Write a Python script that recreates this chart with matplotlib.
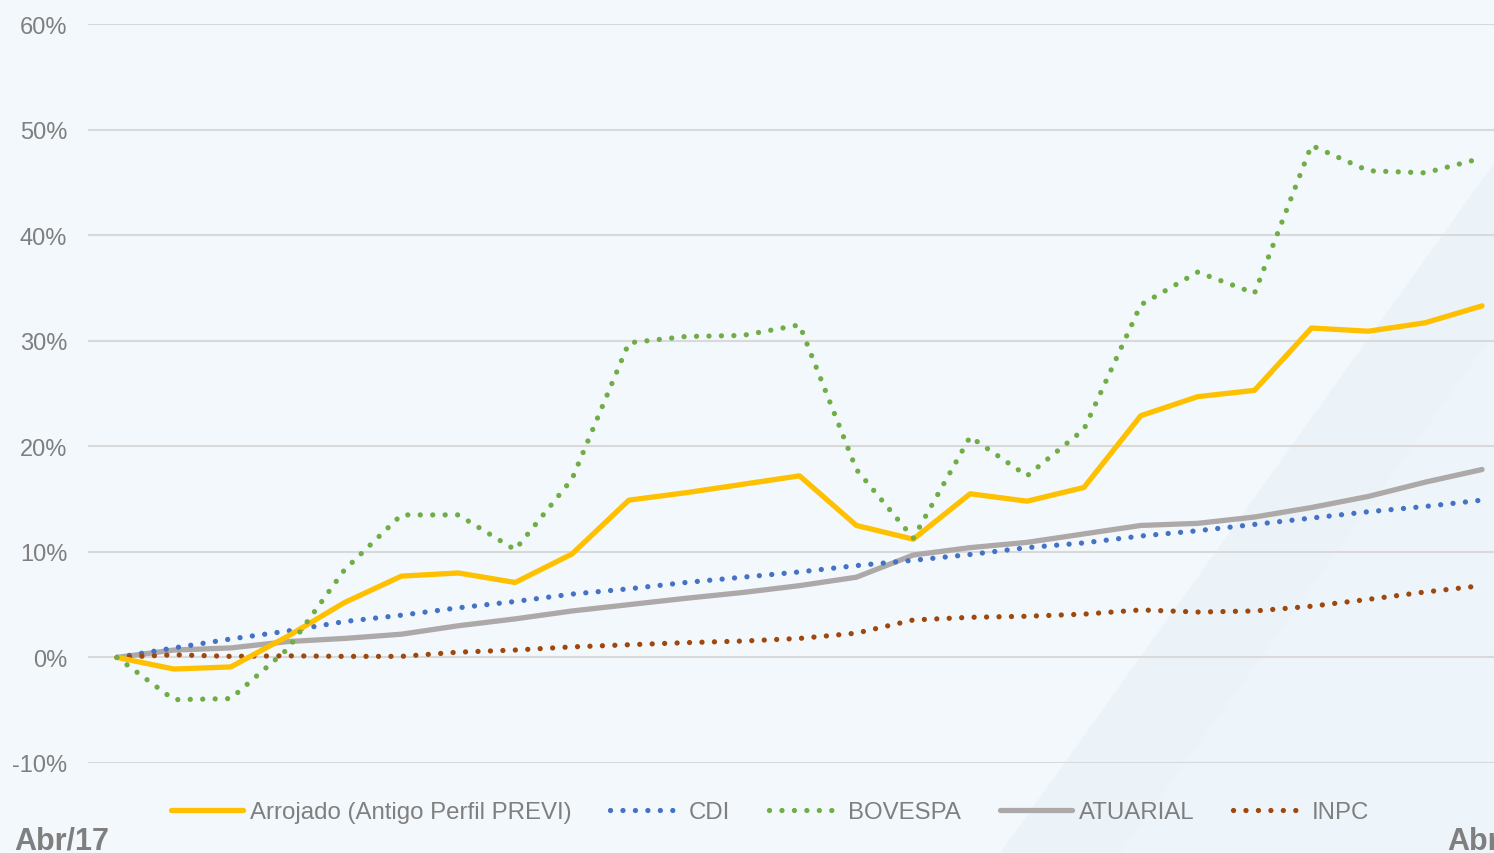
import matplotlib.pyplot as plt
from matplotlib.patches import Polygon

plt.rcParams['font.family'] = ['Liberation Sans', 'DejaVu Sans']

# meses de Abr/17 a Abr/19
meses = list(range(25))
arrojado = [0, -1.1, -0.9, 2.0, 5.2, 7.7, 8.0, 7.1, 9.8, 14.9, 15.6, 16.4, 17.2,
            12.5, 11.2, 15.5, 14.8, 16.1, 22.9, 24.7, 25.3, 31.2, 30.9, 31.7, 33.3]
cdi = [0, 0.9, 1.75, 2.5, 3.4, 4.0, 4.7, 5.3, 6.0, 6.5, 7.1, 7.6, 8.1,
       8.7, 9.2, 9.75, 10.4, 10.85, 11.5, 12.0, 12.6, 13.2, 13.8, 14.3, 14.9]
bovespa = [0, -4.0, -3.9, 0.8, 8.3, 13.5, 13.5, 10.2, 16.9, 29.8, 30.4, 30.5, 31.5,
           17.8, 11.3, 20.9, 17.2, 21.6, 33.4, 36.5, 34.5, 48.5, 46.1, 45.9, 47.3]
atuarial = [0, 0.7, 0.9, 1.5, 1.8, 2.2, 3.0, 3.65, 4.4, 5.0, 5.6, 6.15, 6.8,
            7.6, 9.7, 10.4, 10.9, 11.7, 12.5, 12.7, 13.3, 14.2, 15.25, 16.6, 17.8]
inpc = [0, 0.25, 0.1, 0.15, 0.1, 0.1, 0.5, 0.7, 1.0, 1.2, 1.4, 1.55, 1.8,
        2.3, 3.55, 3.8, 3.9, 4.1, 4.5, 4.3, 4.4, 4.85, 5.5, 6.2, 6.8]
yticks = [-10, 0, 10, 20, 30, 40, 50, 60]
rotulos = ['Abr/17', 'Abr/19']

cinza = '#7F7F7F'

fig = plt.figure(figsize=(14.94, 8.54), dpi=100, facecolor='#F3F8FC')
# faixa azul clara no canto inferior direito (fundo)
fig.patches.append(Polygon([(1000/1494, 0), (1494/1494, 690/854), (1, 0)],
                           closed=True, transform=fig.transFigure,
                           facecolor='#E4EFF8', alpha=0.5, edgecolor='none', zorder=-2))
fig.patches.append(Polygon([(1120/1494, 0), (1494/1494, 520/854), (1, 0)],
                           closed=True, transform=fig.transFigure,
                           facecolor='#EEF5FB', alpha=0.7, edgecolor='none', zorder=-1))

ax = fig.add_axes([88/1494, 1 - 764/854, 1 - 88/1494, (764 - 25)/854])
ax.set_zorder(1)
ax.patch.set_alpha(0)

pontos = dict(linewidth=3.8, linestyle=(0, (0.01, 2.35)), dash_capstyle='round')
ax.plot(meses, arrojado, color='#FFC000', linewidth=3.8, solid_capstyle='round',
        label='Arrojado (Antigo Perfil PREVI)', zorder=5)
ax.plot(meses, cdi, color='#4472C4', label='CDI', zorder=4, **pontos)
ax.plot(meses, bovespa, color='#70AD47', label='BOVESPA', zorder=6, **pontos)
ax.plot(meses, atuarial, color='#ADA9A9', linewidth=3.8, solid_capstyle='round',
        label='ATUARIAL', zorder=3)
ax.plot(meses, inpc, color='#9E480E', label='INPC', zorder=4, **pontos)

ax.set_xlim(-0.51, 24.21)
ax.set_ylim(-10, 60)
ax.set_yticks(yticks)
ax.set_yticklabels([f'{v}%' for v in yticks], fontsize=17, color=cinza)
ax.tick_params(axis='y', length=0, pad=15)
ax.set_xticks([])
ax.grid(axis='y', color='#D9D9D9', linewidth=1.5)
ax.set_axisbelow(True)
for s in ax.spines.values():
    s.set_visible(False)

fig.text(14/1494, 4/854, rotulos[0], fontsize=22, fontweight='bold', color=cinza,
         ha='left', va='baseline')
fig.text(1447/1494, 4/854, rotulos[1], fontsize=22, fontweight='bold', color=cinza,
         ha='left', va='baseline')

leg = fig.legend(loc='center', bbox_to_anchor=(770/1494, 41/854), ncol=5, frameon=False,
                 fontsize=17.3, handlelength=3.0, handletextpad=0.3, columnspacing=1.6)
for t in leg.get_texts():
    t.set_color(cinza)

fig.savefig('out.png', dpi=100, facecolor=fig.get_facecolor())
